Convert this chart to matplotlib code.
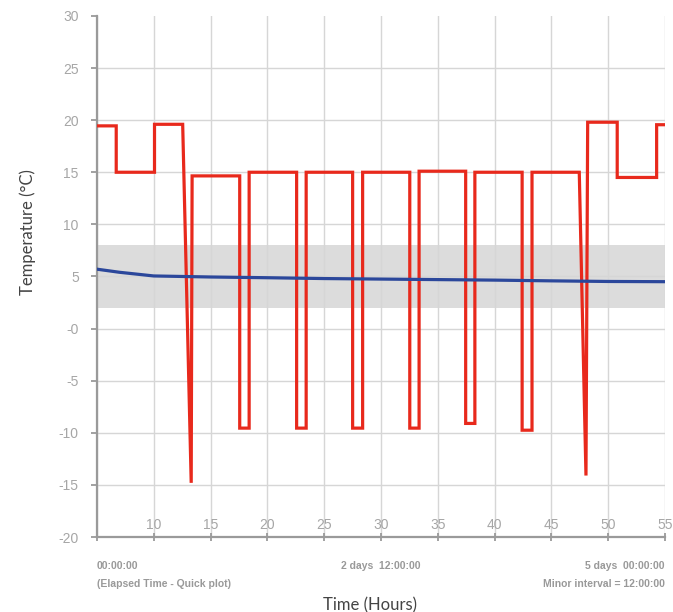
import numpy as np
import matplotlib
matplotlib.use("Agg")
from matplotlib import pyplot as plt

# red trace: hours / temperature (step profile with defrost dips)
red_hours = [5, 6.7, 6.7, 10.07, 10.07, 12.55, 13.3, 13.38, 17.57, 17.57, 18.4, 18.4,
             22.58, 22.58, 23.42, 23.42, 27.51, 27.51, 28.39, 28.39, 32.54, 32.54,
             33.36, 33.36, 37.46, 37.46, 38.27, 38.27, 42.43, 42.43, 43.3, 43.3,
             47.46, 48.05, 48.2, 50.8, 50.8, 54.27, 54.27, 55]
red_temp = [19.45, 19.45, 15.0, 15.0, 19.6, 19.6, -14.8, 14.65, 14.65, -9.55, -9.55, 15.0,
            15.0, -9.55, -9.55, 15.0, 15.0, -9.55, -9.55, 15.0, 15.0, -9.55,
            -9.55, 15.1, 15.1, -9.1, -9.1, 15.0, 15.0, -9.75, -9.75, 15.0,
            15.0, -14.1, 19.8, 19.8, 14.5, 14.5, 19.56, 19.56]

# blue trace: slowly falling product temperature
blue_hours = [5, 7, 10, 15, 20, 25, 30, 35, 40, 45, 50, 55]
blue_temp = [5.7, 5.4, 5.05, 4.95, 4.88, 4.8, 4.75, 4.7, 4.65, 4.58, 4.52, 4.5]

band_low, band_high = 2, 8

x_ticks = [5, 10, 15, 20, 25, 30, 35, 40, 45, 50, 55]
x_labels = ["", "10", "15", "20", "25", "30", "35", "40", "45", "50", "55"]
y_ticks = [-20, -15, -10, -5, 0, 5, 10, 15, 20, 25, 30]
y_labels = ["-20", "-15", "-10", "-5", "-0", "5", "10", "15", "20", "25", "30"]

gray = "#a6a6a6"

fig = plt.figure(figsize=(6.73, 6.12), dpi=100)
ax = fig.add_axes([0.144, 0.1225, 0.844, 0.8515])

ax.axhspan(band_low, band_high, color="#dcdcdc", zorder=0.3, lw=0)
ax.plot(red_hours, red_temp, color="#e8291c", lw=2.3, zorder=3, solid_joinstyle="miter")
ax.plot(blue_hours, blue_temp, color="#2b479b", lw=2.3, zorder=4)

ax.set_xlim(5, 55)
ax.set_ylim(-20, 30)
ax.set_xticks(x_ticks)
ax.set_xticklabels(x_labels, family="Liberation Sans", fontsize=10, color=gray)
ax.set_yticks(y_ticks)
ax.set_yticklabels(y_labels, family="Liberation Sans", fontsize=10, color=gray)

ax.set_axisbelow(True)
ax.grid(True, color="#d6d6d6", lw=1)
ax.yaxis.get_gridlines()[-1].set_visible(False)

for s in ["top", "right"]:
    ax.spines[s].set_visible(False)
for s in ["left", "bottom"]:
    ax.spines[s].set_color("#9a9a9a")
    ax.spines[s].set_linewidth(1.6)

ax.tick_params(axis="y", direction="out", length=4, width=1.3, color="#9a9a9a", pad=9)
ax.tick_params(axis="x", direction="inout", length=6, width=1.3, color="#9a9a9a", pad=-17)

ax.set_ylabel("Temperature (°C)", family="Lato", fontsize=12, color="#444444")
ax.yaxis.set_label_coords(-0.108, 0.585)
ax.set_xlabel("Time (Hours)", family="Lato", fontsize=12, color="#444444")
ax.xaxis.set_label_coords(0.48, -0.115)

small = dict(family=["Liberation Sans Narrow", "Liberation Sans"], fontsize=7.5,
             fontweight="bold", color="#999999", transform=ax.transAxes)
ax.text(0.0, -0.055, "00:00:00", ha="left", va="center", **small)
ax.text(0.5, -0.055, "2 days  12:00:00", ha="center", va="center", **small)
ax.text(1.0, -0.055, "5 days  00:00:00", ha="right", va="center", **small)
ax.text(0.0, -0.09, "(Elapsed Time - Quick plot)", ha="left", va="center", **small)
ax.text(1.0, -0.09, "Minor interval = 12:00:00", ha="right", va="center", **small)

fig.savefig("out.png", dpi=100)
